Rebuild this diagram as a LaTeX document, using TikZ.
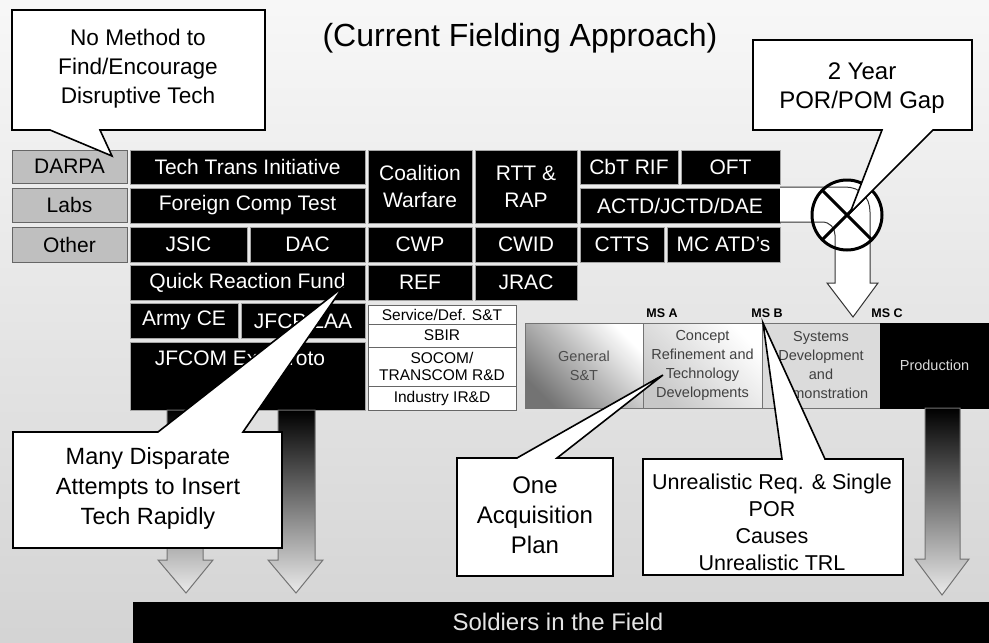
\documentclass[tikz,border=0pt]{standalone}
\usepackage{fontspec}
\setmainfont{Liberation Sans}
\newcommand\fsz[2]{\fontsize{#1}{#2}\selectfont}
\newcommand\mybox[7]{\node[#6, minimum width={(#4-#2)*1pt}, minimum height={(#5-#3)*1pt}] (#1) at ({(#2+#4)/2},{(#3+#5)/2}) {#7};}
\tikzset{
  blk/.style={fill=black, draw=gray!70, line width=0.8pt, text=white, inner sep=0pt, align=center, font=\fsz{21}{27}},
  gbx/.style={fill=black!25, draw=black!60, line width=1pt, inner sep=0pt, font=\fsz{21}{27}},
  wbx/.style={fill=white, draw=black!60, line width=0.8pt, inner sep=0pt, align=center, font=\fsz{15.5}{17}},
  acq/.style={draw=black!55, line width=0.8pt, inner sep=0pt, align=center, font=\fsz{14.5}{19}, text=black!75},
  callout/.style={fill=white, draw=black, line width=1.6pt, line join=miter},
  ctxt/.style={align=center, inner sep=0pt},
  msl/.style={inner sep=0pt, font=\fsz{12.5}{14}\bfseries},
  garrow/.style={top color=black, middle color=black!55, bottom color=white!92!black, draw=black!55, line width=1pt},
}
\begin{document}
\begin{tikzpicture}[x=1pt,y=-1pt]
\useasboundingbox (0,0) rectangle (989,643);
\shade[top color=white!97!black, bottom color=black!17] (0,0) rectangle (989,643);

% title
\node[inner sep=0pt, font=\fsz{32}{36}] (title) at (520,38) {(Current Fielding Approach)};

% gray source boxes
\mybox{darpa}{12}{150}{127}{183}{gbx}{DARPA}
\mybox{labs}{12}{188}{127}{222}{gbx}{Labs}
\mybox{other}{12}{227}{127}{262}{gbx}{Other}

% black boxes
\mybox{tti}{130}{150}{365}{184}{blk}{Tech Trans Initiative}
\mybox{fct}{130}{188}{365}{223}{blk}{Foreign Comp Test}
\mybox{jsic}{130}{227}{247}{262}{blk}{JSIC}
\mybox{dac}{250}{227}{365}{262}{blk}{DAC}
\mybox{qrf}{130}{265}{365}{300}{blk}{Quick Reaction Fund}
\mybox{ace}{130}{303}{238}{338}{blk}{Army CE}
\mybox{jfc}{241}{303}{365}{338}{blk}{JFCP/LAA}
\mybox{jfcom}{130}{342}{365}{410}{blk}{}
\node[text=white, inner sep=0pt, font=\fsz{21}{27}] (jfcomt) at (240,360) {JFCOM Exp Proto};
\mybox{cw}{368}{150}{472}{223}{blk}{Coalition\\Warfare}
\mybox{cwp}{368}{227}{472}{262}{blk}{CWP}
\mybox{ref}{368}{265}{472}{300}{blk}{REF}
\mybox{rtt}{475}{150}{577}{223}{blk}{RTT \&\\RAP}
\mybox{cwid}{475}{227}{577}{262}{blk}{CWID}
\mybox{jrac}{475}{265}{577}{300}{blk}{JRAC}
\mybox{cbt}{580}{150}{678}{184}{blk}{CbT RIF}
\mybox{oft}{681}{150}{780}{184}{blk}{OFT}
\mybox{actd}{580}{188}{780}{223}{blk}{ACTD/JCTD/DAE}
\mybox{ctts}{580}{227}{664}{262}{blk}{CTTS}
\mybox{mcatd}{667}{227}{780}{262}{blk}{MC ATD's}

% white boxes
\mybox{sdst}{368}{305}{516}{324}{wbx}{Service/Def. S\&T}
\mybox{sbir}{368}{324}{516}{347}{wbx}{SBIR}
\mybox{socom}{368}{347}{516}{386}{wbx}{SOCOM/\\TRANSCOM R\&D}
\mybox{irad}{368}{386}{516}{410}{wbx}{Industry IR\&D}

% acquisition phases
\mybox{gst}{525}{323}{643}{408}{acq, top color=white, bottom color=black!55, shading angle=-45, text=black!70}{General\\S\&T}
\mybox{crtd}{643}{323}{762}{408}{acq, top color=white, bottom color=black!22, shading angle=-45}{Concept\\Refinement and\\Technology\\Developments}
\mybox{sdd}{762}{323}{880}{408}{acq, fill=black!14}{Systems\\Development\\and\\Demonstration}
\mybox{prod}{880}{323}{989}{408}{acq, fill=black, draw=black, text=white!85!black}{Production}
\node[msl] (msa) at (662,313) {MS A};
\node[msl] (msb) at (767,313) {MS B};
\node[msl] (msc) at (887,313) {MS C};

% gradient arrows to the field
\shade[garrow] (167,410) -- (203,410) -- (203,560) -- (213,560) -- (186,593) -- (158,560) -- (167,560) -- cycle;
\shade[garrow] (278,410) -- (315,410) -- (315,560) -- (323,560) -- (296,593) -- (268,560) -- (278,560) -- cycle;
\shade[garrow] (925,408) -- (960,408) -- (960,559) -- (969,559) -- (942,595) -- (915,559) -- (925,559) -- cycle;

% soldiers bar
\mybox{field}{133}{602}{989}{643}{fill=black, inner sep=0pt, text=white!90!black, font=\fsz{24}{28}}{}
\node[text=white!90!black, inner sep=0pt, font=\fsz{24}{28}] (fieldt) at (558,622) {Soldiers in the Field};

% bent arrow through the gap circle
\fill[white] (780,187) -- (845,187) .. controls (860,187) and (870,197) .. (870,212) -- (870,283) -- (878,283) -- (853,317) -- (827,283) -- (835,283) -- (835,235) .. controls (835,228) and (830,222) .. (822,222) -- (780,222) -- cycle;
\fill[white] (847,215) circle (35);
\draw[black!80, line width=1pt] (780,187) -- (845,187) .. controls (860,187) and (870,197) .. (870,212) -- (870,283) -- (878,283) -- (853,317) -- (827,283) -- (835,283) -- (835,235) .. controls (835,228) and (830,222) .. (822,222) -- (780,222);
\coordinate (gapc) at (847,215);
\draw[line width=3pt] (gapc) circle (35);
\draw[line width=3pt] (822.3,190.3) -- (871.7,239.7);
\draw[line width=3pt] (822.3,239.7) -- (871.7,190.3);

% callouts
\filldraw[callout] (12,10) -- (265,10) -- (265,130) -- (100,130) -- (112,156) -- (50,130) -- (12,130) -- cycle;
\node[ctxt, font=\fsz{22.6}{29}] (t1) at (138,69) {No Method to\\Find/Encourage\\Disruptive Tech};

\filldraw[callout] (753,40) -- (972,40) -- (972,130) -- (933,130) -- (850,213) -- (882,130) -- (753,130) -- cycle;
\node[ctxt, font=\fsz{24}{29}] (t2) at (862,88) {2 Year\\POR/POM Gap};

\filldraw[callout] (13,432) -- (158,432) -- (343,287) -- (243,432) -- (282,432) -- (282,548) -- (13,548) -- cycle;
\node[ctxt, font=\fsz{23.5}{30}] (t3) at (148,488) {Many Disparate\\Attempts to Insert\\Tech Rapidly};

\filldraw[callout] (457,458) -- (517,458) -- (663,375) -- (557,458) -- (613,458) -- (613,576) -- (457,576) -- cycle;
\node[ctxt, font=\fsz{24}{30}] (t4) at (535,515) {One\\Acquisition\\Plan};

\filldraw[callout] (643,459) -- (782,459) -- (763,323) -- (825,459) -- (903,459) -- (903,575) -- (643,575) -- cycle;
\node[ctxt, font=\fsz{21.5}{27}] (t5) at (772,522) {Unrealistic Req. \& Single\\POR\\Causes\\Unrealistic TRL};
\end{tikzpicture}
\end{document}
